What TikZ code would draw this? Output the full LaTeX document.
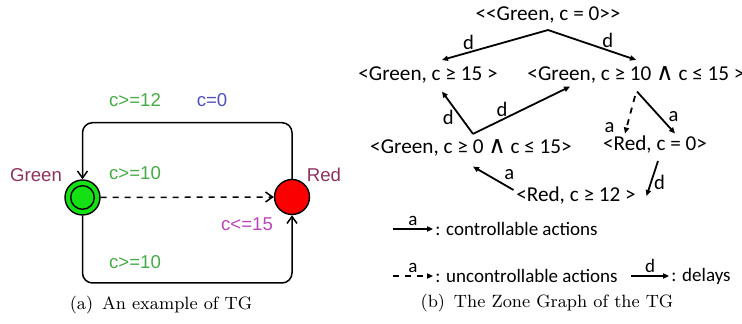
\documentclass[tikz,border=0pt]{standalone}
\usepackage{fontspec}
\usepackage{tikz}
\usetikzlibrary{arrows.meta}
\newfontfamily\tgfont{Liberation Sans}
\newfontfamily\zgfont{Carlito}
\newfontfamily\wedgefont{DejaVu Sans}
\newcommand{\zand}{{\wedgefont\fontsize{12}{12}\selectfont ∧}}
\definecolor{stgreen}{RGB}{20,225,20}
\definecolor{stred}{RGB}{250,0,0}
\definecolor{guardc}{RGB}{70,170,70}
\definecolor{resetc}{RGB}{80,80,190}
\definecolor{namec}{RGB}{140,50,95}
\definecolor{invc}{RGB}{185,70,185}

\begin{document}
\begin{tikzpicture}[
  x=0.5pt, y=-0.5pt,
  state/.style={draw, circle, line width=0.7pt, minimum size=17.5pt, inner sep=0pt},
  tglbl/.style={font=\tgfont\fontsize{9.3}{11}\selectfont, inner sep=0pt},
  edge/.style={line width=0.75pt, -{Straight Barb[length=3.5pt, width=5pt]}},
  zone/.style={font=\zgfont\fontsize{10.6}{12}\selectfont, inner sep=1.2pt},
  elbl/.style={font=\zgfont\fontsize{10.3}{12}\selectfont, inner sep=1pt},
  zlbl/.style={font=\zgfont\fontsize{9.5}{11}\selectfont, inner sep=1pt},
  arr/.style={line width=0.9pt, -{Triangle[length=3pt, width=2.6pt]}},
  subcap/.style={font=\fontsize{8.9}{11}\selectfont, inner sep=0pt}
]
  \useasboundingbox (0,0) rectangle (742,324);

  % (a) the timed game
  \node[state, fill=stgreen] (green) at (82.5,197.5) {};
  \node[draw, circle, line width=0.7pt, minimum size=11.8pt, inner sep=0pt] (greenin) at (green) {};
  \node[state, fill=stred] (red) at (292,197) {};
  \coordinate (top) at (0,122.7);
  \coordinate (bot) at (0,283);

  \draw[edge, rounded corners=5pt] (red.north) -- (red.north |- top) -| (green.north);
  \draw[edge, dashed] (green.east) -- (red.west);
  \draw[edge, rounded corners=5pt] (green.south) -- (green.south |- bot) -| (red.south);

  \node[tglbl, text=namec] (lgreen) at (36,175) {Green};
  \node[tglbl, text=namec] (lred) at (324,175) {Red};
  \node[tglbl, text=guardc] (g12) at (135,100) {c>=12};
  \node[tglbl, text=resetc] (rst) at (212,100) {c=0};
  \node[tglbl, text=guardc] (g10a) at (135,173) {c>=10};
  \node[tglbl, text=invc] (inv) at (247,224) {c<=15};
  \node[tglbl, text=guardc] (g10b) at (135,262) {c>=10};

  \node[subcap] (capa) at (161,305) {(a)\enspace An example of TG};

  % (b) the zone graph
  \node[zone] (root) at (548,15) {<{}<Green, c = 0>{}>};
  \node[zone] (g15) at (428,75) {<Green, c ≥ 15 >};
  \node[zone] (g10) at (636,75) {<Green, c ≥ 10 \zand{} c ≤ 15 >};
  \node[zone] (g0) at (471,148) {<Green, c ≥ 0 \zand{} c ≤ 15>};
  \node[zone] (red0) at (655,145) {<Red, c = 0>};
  \node[zone] (red12) at (576,196) {<Red, c ≥ 12 >};

  \draw[arr] ([yshift=-2pt]root.south) -- node[elbl, above, pos=0.75] {d} ([xshift=7pt, yshift=2pt]g15.north);
  \draw[arr] ([yshift=-2pt]root.south) -- node[elbl, above, pos=0.68] {d} ([yshift=2pt]g10.north);
  \draw[arr] ([xshift=1pt, yshift=1.5pt]g0.north) -- node[elbl, left=2pt, pos=0.4] {d} ([xshift=7pt, yshift=-2.75pt]g15.south);
  \draw[arr] ([xshift=1pt, yshift=1.5pt]g0.north) -- node[elbl, above, pos=0.3] {d} ([xshift=-33pt, yshift=-0.25pt]g10.south);
  \draw[arr] ([xshift=0.5pt, yshift=-2.75pt]g10.south) -- node[elbl, right=3pt, pos=0.6] {a} ([xshift=10pt]red0.north);
  \draw[arr, dashed] ([xshift=-0.5pt, yshift=-5pt]g10.south) -- node[elbl, left=4.5pt, pos=0.85] {a} ([xshift=-15pt]red0.north);
  \draw[arr] ([xshift=1.5pt, yshift=-2.25pt]red0.south) -- node[elbl, right, pos=0.6] {d} ([xshift=4pt]red12.east);
  \draw[arr] ([yshift=3pt]red12.west) -- node[elbl, above right, pos=0.3] {a} ([xshift=1pt, yshift=-3.75pt]g0.south);

  % legend
  \node[zlbl, anchor=west] (lctrl) at (433,229) {: controllable actions};
  \node[zlbl, anchor=west] (lunc) at (433,276) {: uncontrollable actions};
  \node[zlbl, anchor=west] (ldel) at (669,276) {: delays};
  \draw[arr] ([xshift=-20pt]lctrl.west) -- node[zlbl, above] {a} (lctrl.west);
  \draw[arr, dashed] ([xshift=-20pt]lunc.west) -- node[zlbl, above] {a} (lunc.west);
  \draw[arr] ([xshift=-19pt]ldel.west) -- node[zlbl, above] {d} (ldel.west);

  \node[subcap] (capb) at (547,303) {(b)\enspace The Zone Graph of the TG};
\end{tikzpicture}
\end{document}
